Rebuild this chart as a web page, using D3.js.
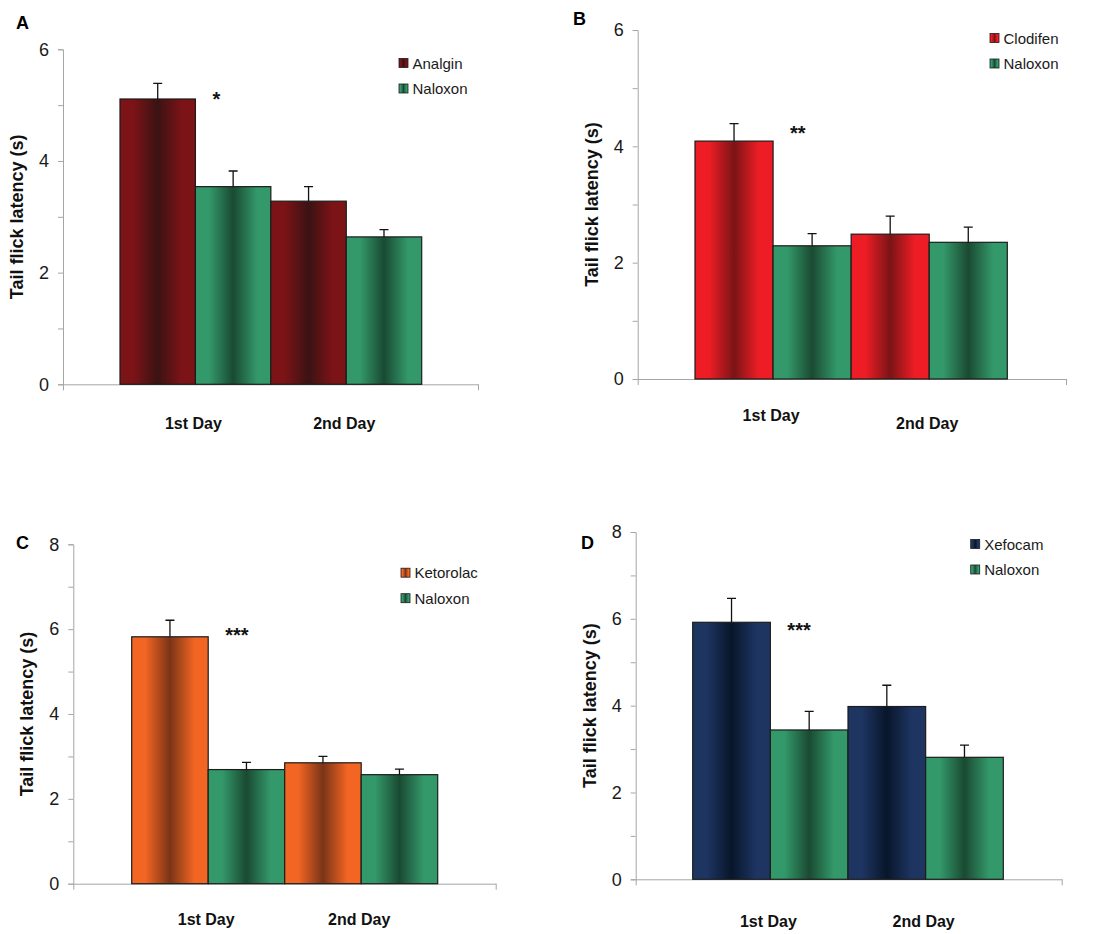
<!DOCTYPE html>
<html>
<head>
<meta charset="utf-8">
<script src="https://cdn.jsdelivr.net/npm/d3@7"></script>
<style>
  body { margin: 0; background: #fff; }
  svg { display: block; font-family: "Liberation Sans", Arial, sans-serif; }
</style>
</head>
<body>
<div id="chart"></div>
<script>
// values
const days = ['1st Day', '2nd Day'];
const panelLetters = ['A', 'B', 'C', 'D'];
const drugNames = ['Analgin', 'Clodifen', 'Ketorolac', 'Xefocam'];
const controlName = 'Naloxon';
const drugMeans = [[5.11, 3.28], [4.09, 2.49], [5.82, 2.85], [5.92, 3.98]];
const drugErrors = [[0.28, 0.26], [0.30, 0.31], [0.39, 0.15], [0.55, 0.49]];
const naloxonMeans = [[3.54, 2.64], [2.29, 2.35], [2.69, 2.57], [3.44, 2.81]];
const naloxonErrors = [[0.28, 0.13], [0.21, 0.26], [0.17, 0.13], [0.43, 0.28]];
const yMaxes = [6, 6, 8, 8];
const sigLabels = ['*', '**', '***', '***'];
const sigValues = [5.17, 4.28, 5.94, 5.82];
const yTitle = 'Tail flick latency (s)';

// bar gradients: [edge, centre]
const drugColors = [['#7c1317', '#3a1313'], ['#ee1d25', '#7a1416'], ['#f26522', '#7a3417'], ['#1e3562', '#08162a']];
const naloxonColor = ['#33996a', '#1a4a32'];

// where each panel sits on the page
const layouts = [
    { axisX: 63, axisRight: 478, top: 49.3, bottom: 384.3, barsL: 120, barsR: 421.7, legendX: 399, legendY: 63, letter: [16, 29], dayY: [429, 429] },
    { axisX: 637.7, axisRight: 1066, top: 30, bottom: 379, barsL: 695, barsR: 1007.3, legendX: 990, legendY: 38, letter: [573, 25], dayY: [421, 428.5] },
    { axisX: 73.3, axisRight: 495.7, top: 544.3, bottom: 883.7, barsL: 131.7, barsR: 437.7, legendX: 401, legendY: 572.7, letter: [16, 549], dayY: [925, 925] },
    { axisX: 635.7, axisRight: 1061.7, top: 532, bottom: 879.3, barsL: 692.7, barsR: 1003.3, legendX: 970.7, legendY: 544, letter: [581, 549], dayY: [927, 927] }
];

const width = 1103;
const height = 934;

const svg = d3.select('#chart')
    .append('svg')
    .attr('width', width)
    .attr('height', height);

const defs = svg.append('defs');

function addGradient(id, pair) {
    const grad = defs.append('linearGradient')
        .attr('id', id)
        .attr('x1', '0%').attr('y1', '0%')
        .attr('x2', '100%').attr('y2', '0%');
    [[0, pair[0]], [0.18, pair[0]], [0.5, pair[1]], [0.82, pair[0]], [1, pair[0]]].forEach(s => {
        grad.append('stop').attr('offset', s[0]).attr('stop-color', s[1]);
    });
}

drugColors.forEach((c, i) => addGradient('drug' + i, c));
addGradient('naloxon', naloxonColor);

panelLetters.forEach((letter, p) => {
    const L = layouts[p];
    const g = svg.append('g');

    const y = d3.scaleLinear()
        .domain([0, yMaxes[p]])
        .range([L.bottom, L.top]);

    const x0 = d3.scaleBand()
        .domain(days)
        .range([L.barsL, L.barsR])
        .padding(0);

    const series = [drugNames[p], controlName];
    const x1 = d3.scaleBand()
        .domain(series)
        .range([0, x0.bandwidth()])
        .padding(0);

    const rows = days.map((d, i) => ({
        day: d,
        values: [
            { key: drugNames[p], mean: drugMeans[p][i], err: drugErrors[p][i], fill: 'url(#drug' + p + ')' },
            { key: controlName, mean: naloxonMeans[p][i], err: naloxonErrors[p][i], fill: 'url(#naloxon)' }
        ]
    }));

    // y axis
    const yAxis = g.append('g')
        .attr('transform', `translate(${L.axisX},0)`)
        .call(d3.axisLeft(y)
            .tickValues(d3.range(0, yMaxes[p] + 1, 1))
            .tickSize(5)
            .tickPadding(9)
            .tickFormat(d => d % 2 === 0 ? d : ''));
    yAxis.select('.domain').attr('stroke', '#a6a6a6');
    yAxis.selectAll('.tick line').attr('stroke', '#a6a6a6');
    yAxis.selectAll('.tick text')
        .style('font-size', '18px')
        .style('font-family', '"Liberation Sans", Arial, sans-serif')
        .attr('fill', '#1a1a1a');

    // x axis line with end ticks
    const xLine = d3.scaleLinear().domain([0, 1]).range([L.axisX, L.axisRight]);
    const xAxis = g.append('g')
        .attr('transform', `translate(0,${L.bottom})`)
        .call(d3.axisBottom(xLine)
            .tickValues([0, 1])
            .tickSize(6)
            .tickSizeOuter(0)
            .tickFormat(''));
    xAxis.select('.domain').attr('stroke', '#a6a6a6');
    xAxis.selectAll('.tick line').attr('stroke', '#a6a6a6');

    // bars
    const groups = g.selectAll('.day')
        .data(rows)
        .enter()
        .append('g')
        .attr('class', 'day')
        .attr('transform', d => `translate(${x0(d.day)},0)`);

    groups.selectAll('rect')
        .data(d => d.values)
        .enter()
        .append('rect')
        .attr('x', d => x1(d.key))
        .attr('y', d => y(d.mean))
        .attr('width', x1.bandwidth())
        .attr('height', d => y(0) - y(d.mean))
        .attr('fill', d => d.fill)
        .attr('stroke', '#1c1c1c')
        .attr('stroke-width', 1.2);

    // error bars (upper only)
    const capHalf = 4.5;
    groups.selectAll('.err')
        .data(d => d.values)
        .enter()
        .append('path')
        .attr('class', 'err')
        .attr('fill', 'none')
        .attr('stroke', '#111')
        .attr('stroke-width', 1.3)
        .attr('d', d => {
            const cx = x1(d.key) + x1.bandwidth() / 2;
            const yt = y(d.mean + d.err);
            return `M${cx},${y(d.mean)}V${yt}M${cx - capHalf},${yt}H${cx + capHalf}`;
        });

    // significance marker
    g.append('text')
        .attr('x', x0(days[0]) + x0.bandwidth() / 2 + 17)
        .attr('y', y(sigValues[p]) + 10)
        .style('font-size', '20px')
        .style('font-weight', 'bold')
        .attr('fill', '#111')
        .text(sigLabels[p]);

    // category labels
    days.forEach((d, i) => {
        g.append('text')
            .attr('x', x0(d) + x0.bandwidth() / 2 - 2)
            .attr('y', L.dayY[i])
            .attr('text-anchor', 'middle')
            .style('font-size', '16px')
            .style('font-weight', 'bold')
            .attr('fill', '#111')
            .text(d);
    });

    // y title
    g.append('text')
        .attr('transform', `translate(${L.axisX - 40},${(L.top + L.bottom) / 2}) rotate(-90)`)
        .attr('text-anchor', 'middle')
        .style('font-size', '18px')
        .style('font-weight', 'bold')
        .attr('fill', '#111')
        .text(yTitle);

    // panel letter
    g.append('text')
        .attr('x', L.letter[0])
        .attr('y', L.letter[1])
        .style('font-size', '18px')
        .style('font-weight', 'bold')
        .attr('fill', '#000')
        .text(letter);

    // legend
    const legend = g.append('g')
        .attr('transform', `translate(${L.legendX},${L.legendY})`);
    const legendItems = [
        { name: drugNames[p], fill: 'url(#drug' + p + ')' },
        { name: controlName, fill: 'url(#naloxon)' }
    ];
    legendItems.forEach((item, i) => {
        legend.append('rect')
            .attr('x', 0)
            .attr('y', i * 25.5 - 4.5)
            .attr('width', 9)
            .attr('height', 9)
            .attr('fill', item.fill)
            .attr('stroke', '#1c1c1c')
            .attr('stroke-width', 0.8);
        legend.append('text')
            .attr('x', 13.5)
            .attr('y', i * 25.5 + 5.5)
            .style('font-size', '15px')
            .attr('fill', '#1a1a1a')
            .text(item.name);
    });
});
</script>
</body>
</html>
